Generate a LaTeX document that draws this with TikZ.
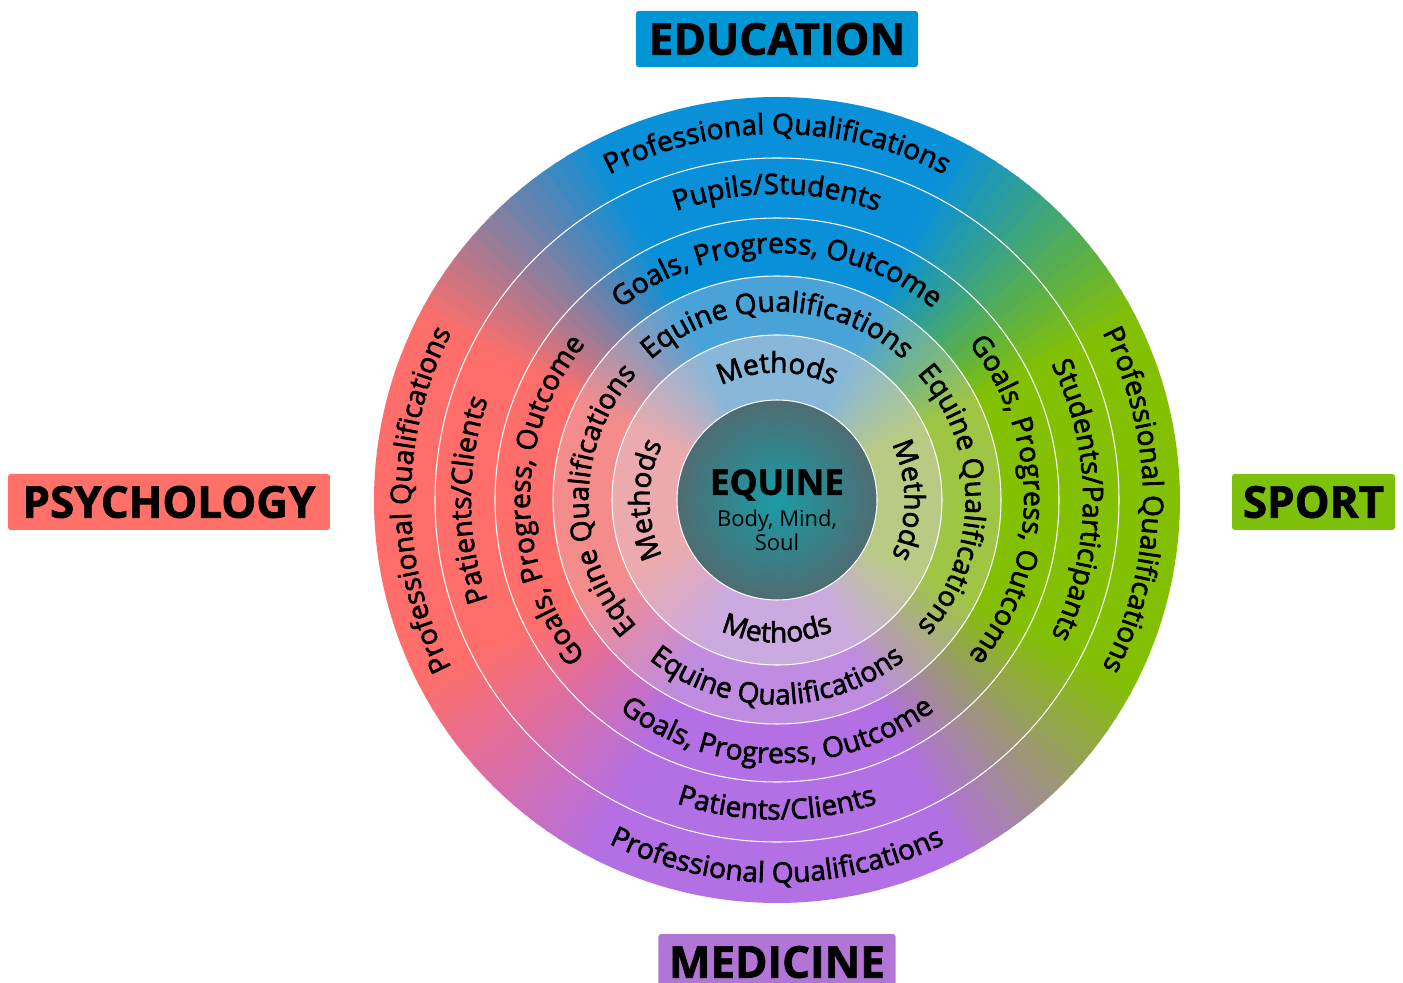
\documentclass[tikz,border=0pt]{standalone}
\usepackage{fontspec}
\setmainfont{Open Sans}
\newfontfamily\ringfam[FakeBold=2.2]{Open Sans}
\newfontfamily\heavyfam{Open Sans}[BoldFeatures={FakeBold=1.5}]
\usetikzlibrary{positioning,decorations.text}
\tikzset{>=latex}
\definecolor{edu}{HTML}{0A90D8}
\definecolor{psy}{HTML}{FF6E6A}
\definecolor{med}{HTML}{B36FE4}
\definecolor{spo}{HTML}{84C002}
\definecolor{edubox}{HTML}{0095D5}
\definecolor{psybox}{HTML}{FF7168}
\definecolor{spobox}{HTML}{7EC10B}
\definecolor{medbox}{HTML}{B275D5}
\definecolor{eqin}{HTML}{1A9CA6}
\definecolor{eqout}{HTML}{4E6C72}
\definecolor{veil}{HTML}{DCD2DC}
\newcommand{\ringfont}{\ringfam\fontsize{16}{19}\selectfont}
\tikzstyle{tag} = [rounded corners=1.5pt, minimum height=1.12cm, inner sep=0pt,
    font=\heavyfam\fontsize{25}{30}\selectfont\bfseries]
\tikzstyle{ringline} = [white, line width=0.6pt]
\tikzstyle{curved} = [decorate, decoration={text along path,
    text={|\ringfont|#1}, text align=center}]
% outer radius, inner radius of text, then top, left, right, bottom
\newcommand{\ringlabels}[6]{
    \path [curved={#3}] (160:#1) arc [start angle=160, end angle=20, radius=#1];
    \path [curved={#4}] (250:#1) arc [start angle=250, end angle=110, radius=#1];
    \path [curved={#5}] (70:#1) arc [start angle=70, end angle=-70, radius=#1];
    \path [curved={#6}] (200:#2) arc [start angle=200, end angle=340, radius=#2];
}

\begin{document}
\begin{tikzpicture}
    \useasboundingbox (-15.54,-9.66) rectangle (12.52,10.0);
    \def\R{8.06}
    % coloured disc, one quarter per field
    \foreach \ca/\cb/\s in {spo/edu/0, edu/psy/90, psy/med/180, med/spo/270}{
        \fill [\ca] (0,0) -- (\s:\R) arc [start angle=\s, end angle=\s+27.5, radius=\R] -- cycle;
        \fill [\cb] (0,0) -- (\s+63:\R) arc [start angle=\s+63, end angle=\s+90.5, radius=\R] -- cycle;
        \foreach \i in {0,...,17}{
            \pgfmathtruncatemacro\p{100-5.55*\i-3}
            \fill [\ca!\p!\cb] (0,0) -- (\s+27+2*\i:\R)
                arc [start angle=\s+27+2*\i, end angle=\s+29.5+2*\i, radius=\R] -- cycle;
        }
    }
    \fill [veil, opacity=0.3, even odd rule] (0,0) circle [radius=4.48] circle [radius=3.30];
    \fill [veil, opacity=0.6] (0,0) circle [radius=3.30];
    \shade [inner color=eqin, outer color=eqout] (0,0) circle [radius=2.0];
    \foreach \r in {6.84,5.64,4.48,3.30,2.0}
        \draw [ringline] (0,0) circle [radius=\r];

    \ringlabels{7.32}{7.65}{Professional Qualifications}{Professional Qualifications}%
        {Professional Qualifications}{Professional Qualifications}
    \ringlabels{6.12}{6.39}{Pupils/Students}{Patients/Clients}%
        {Students/Participants}{Patients/Clients}
    \ringlabels{4.94}{5.26}{Goals, Progress, Outcome}{Goals, Progress, Outcome}%
        {Goals, Progress, Outcome}{Goals, Progress, Outcome}
    \ringlabels{3.77}{4.09}{Equine Qualifications}{Equine Qualifications}%
        {Equine Qualifications}{Equine Qualifications}
    \ringlabels{2.55}{2.85}{Methods}{Methods}{Methods}{Methods}

    \node [font=\heavyfam\fontsize{20}{24}\selectfont\bfseries] (equine) at (0,0.3) {EQUINE};
    \node [below=0.05cm of equine, align=center, inner sep=0pt,
        font=\fontsize{12.5}{13.5}\selectfont] (bms) {Body, Mind,\\Soul};

    \node [tag, fill=edubox, minimum width=5.64cm] (education) at (0,9.22) {EDUCATION};
    \node [tag, fill=psybox, minimum width=6.44cm] (psychology) at (-12.16,-0.04) {PSYCHOLOGY};
    \node [tag, fill=spobox, minimum width=3.26cm] (sport) at (10.73,-0.04) {SPORT};
    \node [tag, fill=medbox, minimum width=4.74cm] (medicine) at (0,-9.24) {MEDICINE};
\end{tikzpicture}
\end{document}
